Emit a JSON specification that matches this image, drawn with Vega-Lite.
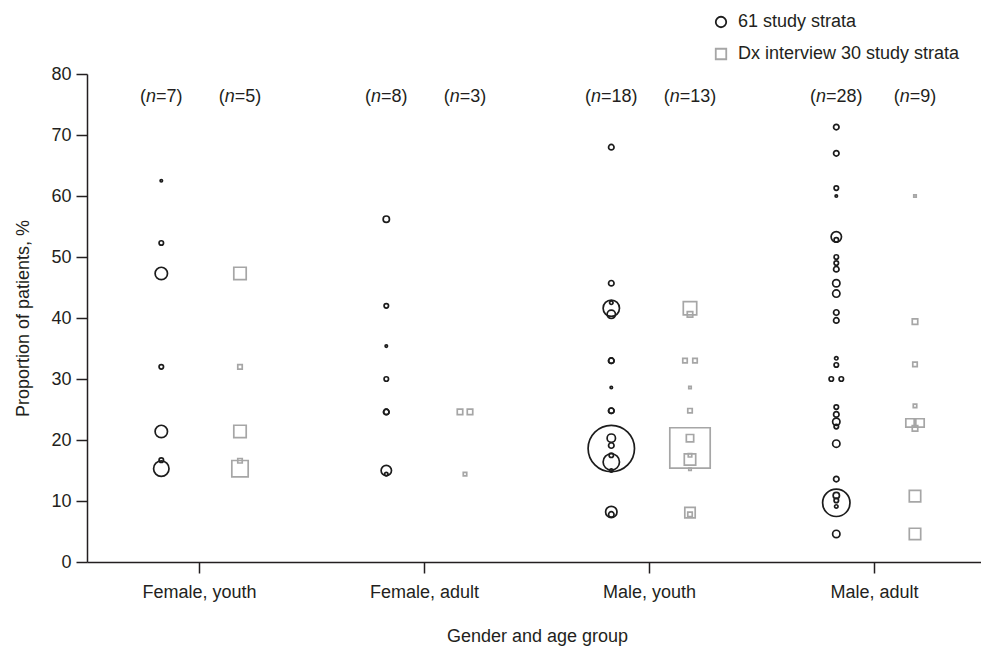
{
  "$schema": "https://vega.github.io/schema/vega-lite/v6.json",
  "width": 894,
  "height": 488,
  "autosize": {"type": "none"},
  "padding": {"left": 87, "top": 74, "right": 0, "bottom": 87},
  "background": "white",
  "config": {
    "font": "Liberation Sans",
    "view": {"stroke": null},
    "axis": {
      "labelFont": "Liberation Sans", "titleFont": "Liberation Sans",
      "labelFontSize": 18, "titleFontSize": 18, "titleFontWeight": "normal",
      "labelColor": "#231f20", "titleColor": "#231f20",
      "domainColor": "#231f20", "tickColor": "#231f20",
      "domainWidth": 1.5, "tickWidth": 1.5, "tickSize": 11, "grid": false
    },
    "text": {"fontSize": 18, "font": "Liberation Sans", "color": "#231f20", "baseline": "middle"}
  },
  "datasets": {
    "pts": [
      {"group": "Female, youth", "series": "61 study strata", "value": 62.5, "weight": 3, "tie": 0},
      {"group": "Female, youth", "series": "61 study strata", "value": 52.3, "weight": 10, "tie": 0},
      {"group": "Female, youth", "series": "61 study strata", "value": 47.3, "weight": 77, "tie": 0},
      {"group": "Female, youth", "series": "61 study strata", "value": 32.0, "weight": 10, "tie": 0},
      {"group": "Female, youth", "series": "61 study strata", "value": 21.4, "weight": 77, "tie": 0},
      {"group": "Female, youth", "series": "61 study strata", "value": 16.7, "weight": 10, "tie": 0},
      {"group": "Female, youth", "series": "61 study strata", "value": 15.3, "weight": 119, "tie": 0},
      {"group": "Female, adult", "series": "61 study strata", "value": 56.2, "weight": 20, "tie": 0},
      {"group": "Female, adult", "series": "61 study strata", "value": 42.0, "weight": 10, "tie": 0},
      {"group": "Female, adult", "series": "61 study strata", "value": 35.4, "weight": 3, "tie": 0},
      {"group": "Female, adult", "series": "61 study strata", "value": 30.0, "weight": 10, "tie": 0},
      {"group": "Female, adult", "series": "61 study strata", "value": 24.6, "weight": 15, "tie": 0},
      {"group": "Female, adult", "series": "61 study strata", "value": 24.6, "weight": 15, "tie": 0},
      {"group": "Female, adult", "series": "61 study strata", "value": 15.0, "weight": 54, "tie": 0},
      {"group": "Female, adult", "series": "61 study strata", "value": 14.4, "weight": 6, "tie": 0},
      {"group": "Male, youth", "series": "61 study strata", "value": 68.0, "weight": 15, "tie": 0},
      {"group": "Male, youth", "series": "61 study strata", "value": 45.7, "weight": 15, "tie": 0},
      {"group": "Male, youth", "series": "61 study strata", "value": 42.5, "weight": 6, "tie": 0},
      {"group": "Male, youth", "series": "61 study strata", "value": 41.6, "weight": 134, "tie": 0},
      {"group": "Male, youth", "series": "61 study strata", "value": 40.6, "weight": 35, "tie": 0},
      {"group": "Male, youth", "series": "61 study strata", "value": 33.0, "weight": 15, "tie": 0},
      {"group": "Male, youth", "series": "61 study strata", "value": 33.0, "weight": 15, "tie": 0},
      {"group": "Male, youth", "series": "61 study strata", "value": 28.6, "weight": 3, "tie": 0},
      {"group": "Male, youth", "series": "61 study strata", "value": 24.8, "weight": 15, "tie": 0},
      {"group": "Male, youth", "series": "61 study strata", "value": 24.8, "weight": 15, "tie": 0},
      {"group": "Male, youth", "series": "61 study strata", "value": 20.3, "weight": 35, "tie": 0},
      {"group": "Male, youth", "series": "61 study strata", "value": 19.1, "weight": 15, "tie": 0},
      {"group": "Male, youth", "series": "61 study strata", "value": 18.6, "weight": 1076, "tie": 0},
      {"group": "Male, youth", "series": "61 study strata", "value": 17.5, "weight": 10, "tie": 0},
      {"group": "Male, youth", "series": "61 study strata", "value": 16.4, "weight": 134, "tie": 0},
      {"group": "Male, youth", "series": "61 study strata", "value": 15.0, "weight": 6, "tie": 0},
      {"group": "Male, youth", "series": "61 study strata", "value": 8.2, "weight": 65, "tie": 0},
      {"group": "Male, youth", "series": "61 study strata", "value": 7.8, "weight": 15, "tie": 0},
      {"group": "Male, adult", "series": "61 study strata", "value": 71.3, "weight": 15, "tie": 0},
      {"group": "Male, adult", "series": "61 study strata", "value": 67.0, "weight": 15, "tie": 0},
      {"group": "Male, adult", "series": "61 study strata", "value": 61.3, "weight": 10, "tie": 0},
      {"group": "Male, adult", "series": "61 study strata", "value": 60.0, "weight": 3, "tie": 0},
      {"group": "Male, adult", "series": "61 study strata", "value": 53.3, "weight": 54, "tie": 0},
      {"group": "Male, adult", "series": "61 study strata", "value": 52.8, "weight": 10, "tie": 0},
      {"group": "Male, adult", "series": "61 study strata", "value": 50.0, "weight": 10, "tie": 0},
      {"group": "Male, adult", "series": "61 study strata", "value": 49.0, "weight": 10, "tie": 0},
      {"group": "Male, adult", "series": "61 study strata", "value": 48.0, "weight": 15, "tie": 0},
      {"group": "Male, adult", "series": "61 study strata", "value": 45.7, "weight": 27, "tie": 0},
      {"group": "Male, adult", "series": "61 study strata", "value": 44.0, "weight": 27, "tie": 0},
      {"group": "Male, adult", "series": "61 study strata", "value": 40.9, "weight": 15, "tie": 0},
      {"group": "Male, adult", "series": "61 study strata", "value": 39.6, "weight": 15, "tie": 0},
      {"group": "Male, adult", "series": "61 study strata", "value": 33.4, "weight": 6, "tie": 0},
      {"group": "Male, adult", "series": "61 study strata", "value": 32.3, "weight": 10, "tie": 0},
      {"group": "Male, adult", "series": "61 study strata", "value": 30.0, "weight": 10, "tie": -1},
      {"group": "Male, adult", "series": "61 study strata", "value": 30.0, "weight": 10, "tie": 1},
      {"group": "Male, adult", "series": "61 study strata", "value": 25.4, "weight": 10, "tie": 0},
      {"group": "Male, adult", "series": "61 study strata", "value": 24.2, "weight": 15, "tie": 0},
      {"group": "Male, adult", "series": "61 study strata", "value": 23.0, "weight": 27, "tie": 0},
      {"group": "Male, adult", "series": "61 study strata", "value": 22.2, "weight": 10, "tie": 0},
      {"group": "Male, adult", "series": "61 study strata", "value": 19.4, "weight": 27, "tie": 0},
      {"group": "Male, adult", "series": "61 study strata", "value": 13.6, "weight": 15, "tie": 0},
      {"group": "Male, adult", "series": "61 study strata", "value": 10.9, "weight": 20, "tie": 0},
      {"group": "Male, adult", "series": "61 study strata", "value": 10.1, "weight": 10, "tie": 0},
      {"group": "Male, adult", "series": "61 study strata", "value": 9.7, "weight": 375, "tie": 0},
      {"group": "Male, adult", "series": "61 study strata", "value": 9.1, "weight": 6, "tie": 0},
      {"group": "Male, adult", "series": "61 study strata", "value": 4.6, "weight": 27, "tie": 0},
      {"group": "Female, youth", "series": "Dx interview 30 study strata", "value": 47.3, "weight": 77, "tie": 0},
      {"group": "Female, youth", "series": "Dx interview 30 study strata", "value": 32.0, "weight": 10, "tie": 0},
      {"group": "Female, youth", "series": "Dx interview 30 study strata", "value": 21.4, "weight": 77, "tie": 0},
      {"group": "Female, youth", "series": "Dx interview 30 study strata", "value": 16.6, "weight": 10, "tie": 0},
      {"group": "Female, youth", "series": "Dx interview 30 study strata", "value": 15.3, "weight": 134, "tie": 0},
      {"group": "Female, adult", "series": "Dx interview 30 study strata", "value": 24.6, "weight": 15, "tie": -1},
      {"group": "Female, adult", "series": "Dx interview 30 study strata", "value": 24.6, "weight": 15, "tie": 1},
      {"group": "Female, adult", "series": "Dx interview 30 study strata", "value": 14.4, "weight": 6, "tie": 0},
      {"group": "Male, youth", "series": "Dx interview 30 study strata", "value": 41.6, "weight": 90, "tie": 0},
      {"group": "Male, youth", "series": "Dx interview 30 study strata", "value": 40.6, "weight": 15, "tie": 0},
      {"group": "Male, youth", "series": "Dx interview 30 study strata", "value": 33.0, "weight": 10, "tie": -1},
      {"group": "Male, youth", "series": "Dx interview 30 study strata", "value": 33.0, "weight": 10, "tie": 1},
      {"group": "Male, youth", "series": "Dx interview 30 study strata", "value": 28.6, "weight": 3, "tie": 0},
      {"group": "Male, youth", "series": "Dx interview 30 study strata", "value": 24.8, "weight": 10, "tie": 0},
      {"group": "Male, youth", "series": "Dx interview 30 study strata", "value": 20.3, "weight": 27, "tie": 0},
      {"group": "Male, youth", "series": "Dx interview 30 study strata", "value": 18.7, "weight": 816, "tie": 0},
      {"group": "Male, youth", "series": "Dx interview 30 study strata", "value": 17.5, "weight": 6, "tie": 0},
      {"group": "Male, youth", "series": "Dx interview 30 study strata", "value": 16.8, "weight": 65, "tie": 0},
      {"group": "Male, youth", "series": "Dx interview 30 study strata", "value": 15.2, "weight": 3, "tie": 0},
      {"group": "Male, youth", "series": "Dx interview 30 study strata", "value": 8.1, "weight": 54, "tie": 0},
      {"group": "Male, youth", "series": "Dx interview 30 study strata", "value": 7.8, "weight": 10, "tie": 0},
      {"group": "Male, adult", "series": "Dx interview 30 study strata", "value": 60.0, "weight": 3, "tie": 0},
      {"group": "Male, adult", "series": "Dx interview 30 study strata", "value": 39.4, "weight": 15, "tie": 0},
      {"group": "Male, adult", "series": "Dx interview 30 study strata", "value": 32.4, "weight": 10, "tie": 0},
      {"group": "Male, adult", "series": "Dx interview 30 study strata", "value": 25.6, "weight": 6, "tie": 0},
      {"group": "Male, adult", "series": "Dx interview 30 study strata", "value": 22.8, "weight": 35, "tie": -1},
      {"group": "Male, adult", "series": "Dx interview 30 study strata", "value": 22.8, "weight": 35, "tie": 1},
      {"group": "Male, adult", "series": "Dx interview 30 study strata", "value": 21.9, "weight": 15, "tie": 0},
      {"group": "Male, adult", "series": "Dx interview 30 study strata", "value": 10.8, "weight": 65, "tie": 0},
      {"group": "Male, adult", "series": "Dx interview 30 study strata", "value": 4.6, "weight": 65, "tie": 0}
    ],
    "nlab": [
      {"group": "Female, youth", "series": "61 study strata", "count": 7, "tie": 0},
      {"group": "Female, youth", "series": "Dx interview 30 study strata", "count": 5, "tie": 0},
      {"group": "Female, adult", "series": "61 study strata", "count": 8, "tie": 0},
      {"group": "Female, adult", "series": "Dx interview 30 study strata", "count": 3, "tie": 0},
      {"group": "Male, youth", "series": "61 study strata", "count": 18, "tie": 0},
      {"group": "Male, youth", "series": "Dx interview 30 study strata", "count": 13, "tie": 0},
      {"group": "Male, adult", "series": "61 study strata", "count": 28, "tie": 0},
      {"group": "Male, adult", "series": "Dx interview 30 study strata", "count": 9, "tie": 0}
    ]
  },
  "encoding": {
    "x": {
      "field": "group", "type": "nominal",
      "sort": ["Female, youth", "Female, adult", "Male, youth", "Male, adult"],
      "scale": {"range": [0, 900], "paddingInner": 0, "paddingOuter": 0},
      "axis": {"title": "Gender and age group", "labelAngle": 0, "labelPadding": 10, "titlePadding": 26}
    },
    "xOffset": {"field": "tie", "type": "quantitative"}
  },
  "layer": [
    {
      "layer": [
        {
          "data": {"name": "pts"},
          "transform": [{"filter": "datum.series == '61 study strata'"}],
          "mark": {"type": "point", "filled": false, "strokeWidth": 1.7, "opacity": 1},
          "encoding": {
            "y": {"field": "value", "type": "quantitative", "scale": {"domain": [0, 80], "nice": false},
              "axis": {"values": [0, 10, 20, 30, 40, 50, 60, 70, 80], "title": "Proportion of patients, %", "labelPadding": 5, "titlePadding": 18}},
            "xOffset": {"field": "tie", "type": "quantitative", "scale": {"domain": [-1, 1], "range": [69.3, 79.3]}},
            "size": {"field": "weight", "type": "quantitative", "scale": {"type": "linear", "domain": [0, 1000], "range": [0, 2000]}, "legend": null},
            "shape": {"field": "series", "type": "nominal", "scale": {"domain": ["61 study strata", "Dx interview 30 study strata"], "range": ["circle", "square"]},
              "legend": {"title": null, "orient": "none", "legendX": 625, "legendY": -61, "labelFontSize": 18, "labelFont": "Liberation Sans", "labelColor": "#231f20", "labelLimit": 0, "symbolSize": 110, "symbolStrokeWidth": 1.8, "labelOffset": 8, "rowPadding": 14, "padding": 0}},
            "stroke": {"field": "series", "type": "nominal", "scale": {"domain": ["61 study strata", "Dx interview 30 study strata"], "range": ["#1c1c1c", "#a6a6a6"]},
              "legend": {"title": null, "orient": "none", "legendX": 625, "legendY": -61, "labelFontSize": 18, "labelFont": "Liberation Sans", "labelColor": "#231f20", "labelLimit": 0, "symbolSize": 110, "symbolStrokeWidth": 1.8, "labelOffset": 8, "rowPadding": 14, "padding": 0}}
          }
        },
        {
          "data": {"name": "nlab"},
          "transform": [{"filter": "datum.series == '61 study strata' && datum.count < 10"}],
          "mark": {"type": "text", "align": "right", "dx": -15.25},
          "encoding": {"y": {"datum": 76.2}, "text": {"value": "("}}
        },
        {
          "data": {"name": "nlab"},
          "transform": [{"filter": "datum.series == '61 study strata' && datum.count < 10"}],
          "mark": {"type": "text", "align": "right", "fontStyle": "italic", "dx": -5.25},
          "encoding": {"y": {"datum": 76.2}, "text": {"value": "n"}}
        },
        {
          "data": {"name": "nlab"},
          "transform": [{"filter": "datum.series == '61 study strata' && datum.count < 10"}, {"calculate": "'=' + datum.count + ')'", "as": "rest"}],
          "mark": {"type": "text", "align": "left", "dx": -5.25},
          "encoding": {"y": {"datum": 76.2}, "text": {"field": "rest"}}
        },
        {
          "data": {"name": "nlab"},
          "transform": [{"filter": "datum.series == '61 study strata' && datum.count >= 10"}],
          "mark": {"type": "text", "align": "right", "dx": -20.25},
          "encoding": {"y": {"datum": 76.2}, "text": {"value": "("}}
        },
        {
          "data": {"name": "nlab"},
          "transform": [{"filter": "datum.series == '61 study strata' && datum.count >= 10"}],
          "mark": {"type": "text", "align": "right", "fontStyle": "italic", "dx": -10.25},
          "encoding": {"y": {"datum": 76.2}, "text": {"value": "n"}}
        },
        {
          "data": {"name": "nlab"},
          "transform": [{"filter": "datum.series == '61 study strata' && datum.count >= 10"}, {"calculate": "'=' + datum.count + ')'", "as": "rest"}],
          "mark": {"type": "text", "align": "left", "dx": -10.25},
          "encoding": {"y": {"datum": 76.2}, "text": {"field": "rest"}}
        }
      ]
    },
    {
      "layer": [
        {
          "data": {"name": "pts"},
          "transform": [{"filter": "datum.series == 'Dx interview 30 study strata'"}],
          "mark": {"type": "point", "filled": false, "strokeWidth": 1.7, "opacity": 1},
          "encoding": {
            "y": {"field": "value", "type": "quantitative", "scale": {"domain": [0, 80], "nice": false},
              "axis": {"values": [0, 10, 20, 30, 40, 50, 60, 70, 80], "title": "Proportion of patients, %", "labelPadding": 5, "titlePadding": 18}},
            "xOffset": {"field": "tie", "type": "quantitative", "scale": {"domain": [-1, 1], "range": [148, 158]}},
            "size": {"field": "weight", "type": "quantitative", "scale": {"type": "linear", "domain": [0, 1000], "range": [0, 2000]}, "legend": null},
            "shape": {"field": "series", "type": "nominal", "scale": {"domain": ["61 study strata", "Dx interview 30 study strata"], "range": ["circle", "square"]},
              "legend": {"title": null, "orient": "none", "legendX": 625, "legendY": -61, "labelFontSize": 18, "labelFont": "Liberation Sans", "labelColor": "#231f20", "labelLimit": 0, "symbolSize": 110, "symbolStrokeWidth": 1.8, "labelOffset": 8, "rowPadding": 14, "padding": 0}},
            "stroke": {"field": "series", "type": "nominal", "scale": {"domain": ["61 study strata", "Dx interview 30 study strata"], "range": ["#1c1c1c", "#a6a6a6"]},
              "legend": {"title": null, "orient": "none", "legendX": 625, "legendY": -61, "labelFontSize": 18, "labelFont": "Liberation Sans", "labelColor": "#231f20", "labelLimit": 0, "symbolSize": 110, "symbolStrokeWidth": 1.8, "labelOffset": 8, "rowPadding": 14, "padding": 0}}
          }
        },
        {
          "data": {"name": "nlab"},
          "transform": [{"filter": "datum.series == 'Dx interview 30 study strata' && datum.count < 10"}],
          "mark": {"type": "text", "align": "right", "dx": -15.25},
          "encoding": {"y": {"datum": 76.2}, "text": {"value": "("}}
        },
        {
          "data": {"name": "nlab"},
          "transform": [{"filter": "datum.series == 'Dx interview 30 study strata' && datum.count < 10"}],
          "mark": {"type": "text", "align": "right", "fontStyle": "italic", "dx": -5.25},
          "encoding": {"y": {"datum": 76.2}, "text": {"value": "n"}}
        },
        {
          "data": {"name": "nlab"},
          "transform": [{"filter": "datum.series == 'Dx interview 30 study strata' && datum.count < 10"}, {"calculate": "'=' + datum.count + ')'", "as": "rest"}],
          "mark": {"type": "text", "align": "left", "dx": -5.25},
          "encoding": {"y": {"datum": 76.2}, "text": {"field": "rest"}}
        },
        {
          "data": {"name": "nlab"},
          "transform": [{"filter": "datum.series == 'Dx interview 30 study strata' && datum.count >= 10"}],
          "mark": {"type": "text", "align": "right", "dx": -20.25},
          "encoding": {"y": {"datum": 76.2}, "text": {"value": "("}}
        },
        {
          "data": {"name": "nlab"},
          "transform": [{"filter": "datum.series == 'Dx interview 30 study strata' && datum.count >= 10"}],
          "mark": {"type": "text", "align": "right", "fontStyle": "italic", "dx": -10.25},
          "encoding": {"y": {"datum": 76.2}, "text": {"value": "n"}}
        },
        {
          "data": {"name": "nlab"},
          "transform": [{"filter": "datum.series == 'Dx interview 30 study strata' && datum.count >= 10"}, {"calculate": "'=' + datum.count + ')'", "as": "rest"}],
          "mark": {"type": "text", "align": "left", "dx": -10.25},
          "encoding": {"y": {"datum": 76.2}, "text": {"field": "rest"}}
        }
      ]
    }
  ],
  "resolve": {"scale": {"xOffset": "independent"}}
}
